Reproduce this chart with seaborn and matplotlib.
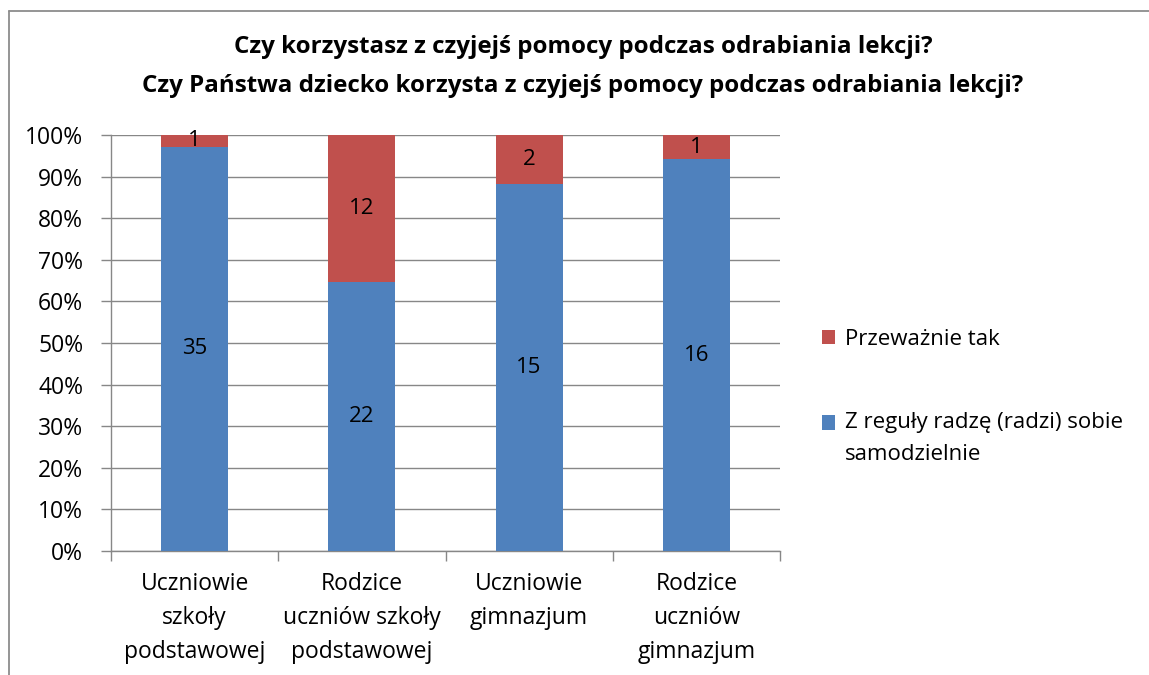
import matplotlib
matplotlib.use("Agg")
import matplotlib.pyplot as plt
import seaborn as sns
import pandas as pd
import numpy as np
from matplotlib.patches import Patch
from matplotlib.lines import Line2D

categories = ["Uczniowie\nszkoły\npodstawowej", "Rodzice\nuczniów szkoły\npodstawowej",
              "Uczniowie\ngimnazjum", "Rodzice\nuczniów\ngimnazjum"]
samodzielnie = [35, 22, 15, 16]
przewaznie_tak = [1, 12, 2, 1]
series_names = ["Przeważnie tak", "Z reguły radzę (radzi) sobie\nsamodzielnie"]
yticklabels = ["0%", "10%", "20%", "30%", "40%", "50%", "60%", "70%", "80%", "90%", "100%"]

BLUE = "#4F81BD"
RED = "#C0504D"
GRID = "#878787"

sns.set_theme(style="white")
plt.rcParams["font.family"] = ["Open Sans", "DejaVu Sans"]
plt.rcParams["text.color"] = "black"
plt.rcParams["xtick.labelcolor"] = "black"
plt.rcParams["ytick.labelcolor"] = "black"

tot = np.array(samodzielnie) + np.array(przewaznie_tak)
blue_pct = np.array(samodzielnie) / tot * 100
df = pd.DataFrame({"cat": categories, "blue": blue_pct, "total": 100.0})

fig = plt.figure(figsize=(11.49, 6.75), dpi=100)
ax = fig.add_axes([111/1149, 1-551/675, (780-111)/1149, (551-135)/675])

sns.barplot(data=df, x="cat", y="total", color=RED, width=0.4, saturation=1, ax=ax,
            zorder=3, edgecolor="none", linewidth=0)
sns.barplot(data=df, x="cat", y="blue", color=BLUE, width=0.4, saturation=1, ax=ax,
            zorder=3, edgecolor="none", linewidth=0)

ax.set_xlim(-0.5, 3.5)
ax.set_ylim(0, 100)
ax.set_yticks(np.arange(0, 101, 10))
ax.set_yticklabels(yticklabels, fontsize=16.5)
ax.yaxis.grid(True, color=GRID, linewidth=1, zorder=0)
ax.set_axisbelow(True)
ax.set_xlabel("")
ax.set_ylabel("")
ax.set_xticks(np.arange(-0.5, 4, 1))
ax.set_xticklabels([])
ax.set_xticks(range(4), minor=True)
ax.set_xticklabels(categories, minor=True, fontsize=16.5, linespacing=1.57)
ax.tick_params(axis="x", which="major", direction="out", length=7, color=GRID, width=1, bottom=True)
ax.tick_params(axis="x", which="minor", length=0, pad=15)
ax.tick_params(axis="y", direction="out", length=7, color=GRID, width=1, left=True, pad=13)
for s in ["top", "right"]:
    ax.spines[s].set_visible(False)
for s in ["left", "bottom"]:
    ax.spines[s].set_color(GRID)
    ax.spines[s].set_linewidth(1)

for i in range(4):
    ax.text(i, blue_pct[i] / 2, str(samodzielnie[i]), ha="center", va="center", fontsize=16, zorder=5)
    ax.text(i, (blue_pct[i] + 100) / 2, str(przewaznie_tak[i]), ha="center", va="center", fontsize=16, zorder=5)

fig.text(583/1149, 1-47/675, "Czy korzystasz z czyjejś pomocy podczas odrabiania lekcji?",
         ha="center", va="center", fontsize=17.4, fontweight="bold")
fig.text(583/1149, 1-86/675, "Czy Państwa dziecko korzysta z czyjejś pomocy podczas odrabiania lekcji?",
         ha="center", va="center", fontsize=17.4, fontweight="bold")

handles = [Patch(facecolor=RED, edgecolor="none"), Patch(facecolor=BLUE, edgecolor="none")]
leg = fig.legend(handles, series_names, loc="upper left", bbox_to_anchor=(813/1149, 1-320/675),
                 frameon=False, fontsize=16, handlelength=0.6, handleheight=0.6,
                 handletextpad=0.45, labelspacing=2.8, borderaxespad=0)
for t in leg.get_texts():
    t.set_linespacing(1.68)
# align the blue square with the first line of its two-line label
bh = leg.legend_handles[1]
bh.set_y(bh.get_y() + 11.7)

# chart frame (cropped)
fig.add_artist(Line2D([9/1149, 9/1149], [0, 1-11/675], color="#8c8c8c", lw=1.3))
fig.add_artist(Line2D([9/1149, 1], [1-11/675, 1-11/675], color="#8c8c8c", lw=1.3))

fig.savefig("out.png", dpi=100)
